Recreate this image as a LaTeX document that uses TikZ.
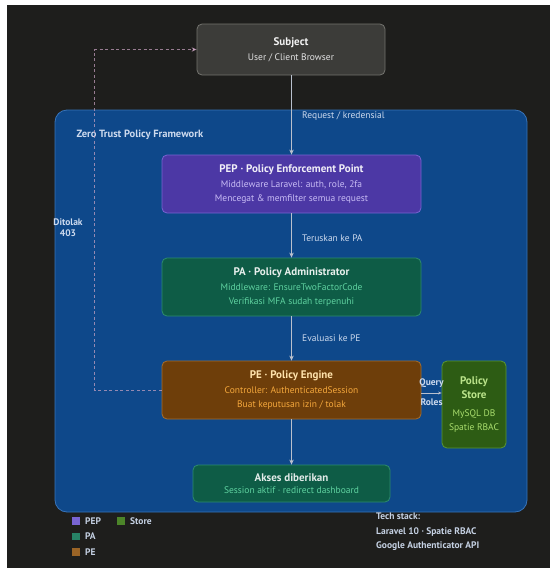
\documentclass[tikz,border=0pt]{standalone}
\usepackage{fontspec}
\setmainfont{PT Sans}
\usepackage{tikz}
\usetikzlibrary{positioning}
\usetikzlibrary{arrows.meta}

\definecolor{bgdark}{RGB}{30,30,28}
\definecolor{framefill}{RGB}{14,72,138}
\definecolor{frameline}{RGB}{55,115,185}
\definecolor{subjfill}{RGB}{60,60,57}
\definecolor{subjline}{RGB}{115,115,110}
\definecolor{pepfill}{RGB}{76,56,165}
\definecolor{pepline}{RGB}{120,100,210}
\definecolor{peptext}{RGB}{200,188,245}
\definecolor{pafill}{RGB}{14,92,70}
\definecolor{paline}{RGB}{45,140,110}
\definecolor{patext}{RGB}{95,210,160}
\definecolor{pefill}{RGB}{110,62,10}
\definecolor{peline}{RGB}{165,110,45}
\definecolor{petext}{RGB}{245,168,60}
\definecolor{petitle}{RGB}{255,226,172}
\definecolor{storefill}{RGB}{45,92,20}
\definecolor{storeline}{RGB}{90,150,50}
\definecolor{storetext}{RGB}{170,222,110}
\definecolor{arrowgray}{RGB}{185,192,205}
\definecolor{labeltext}{RGB}{205,218,238}
\definecolor{denyline}{RGB}{205,165,195}

\tikzset{
	box/.style={ % kotak komponen
			rectangle,
			rounded corners=5pt,
			line width=0.8pt,
			align=center,
			inner sep=0pt,
			font=\fontsize{9.5}{13.5}\selectfont
		},
	flow/.style={ % panah utama
			draw=arrowgray,
			line width=0.8pt,
			-{Stealth[length=5pt,width=4.5pt]}
		},
	flowlabel/.style={
			text=labeltext,
			font=\fontsize{9.5}{11}\selectfont,
			anchor=west
		},
	deny/.style={ % jalur ditolak
			draw=denyline,
			draw opacity=0.7,
			line width=0.8pt,
			dash pattern=on 3pt off 2.5pt,
			-{Stealth[length=5pt,width=4.5pt]}
		},
	legendbox/.style={
			rectangle,
			minimum size=7.5pt,
			inner sep=0pt
		},
	legendtext/.style={
			text=labeltext!90!gray,
			font=\bfseries\fontsize{9.5}{11}\selectfont,
			anchor=west,
			inner sep=0pt
		}
}

\newcommand{\boxtitle}[1]{{\bfseries\fontsize{11}{13}\selectfont #1}}

\begin{document}
\begin{tikzpicture}[x=1pt,y=-1pt]
	\useasboundingbox (0,0) rectangle (550,568);
	\fill[white] (0,0) rectangle (550,568);
	\fill[bgdark] (7,5) rectangle (550,568);

	% frame Zero Trust
	\draw[fill=framefill, draw=frameline, line width=0.8pt, rounded corners=12pt]
		(55,110) rectangle (527,512);
	\node[anchor=west, text=labeltext, font=\bfseries\fontsize{10.5}{12}\selectfont]
		(framelabel) at (73,135) {Zero Trust Policy Framework};

	% komponen
	\node[box, fill=subjfill, draw=subjline, minimum width=188pt, minimum height=51pt]
		(subject) at (291,49.5)
		{\textcolor{white!90!gray}{\boxtitle{Subject}}\\[1pt]
		 \textcolor{white!78!gray}{User / Client Browser}};
	\node[box, fill=pepfill, draw=pepline, minimum width=259pt, minimum height=58pt]
		(pep) at (291.5,184)
		{\textcolor{white!92!pepfill}{\boxtitle{PEP · Policy Enforcement Point}}\\[2pt]
		 \textcolor{peptext}{Middleware Laravel: auth, role, 2fa}\\
		 \textcolor{peptext}{Mencegat \& memfilter semua request}};
	\node[box, fill=pafill, draw=paline, minimum width=259pt, minimum height=58pt]
		(pa) at (291.5,287)
		{\textcolor{white!90!pafill}{\boxtitle{PA · Policy Administrator}}\\[2pt]
		 \textcolor{patext}{Middleware: EnsureTwoFactorCode}\\
		 \textcolor{patext}{Verifikasi MFA sudah terpenuhi}};
	\node[box, fill=pefill, draw=peline, minimum width=259pt, minimum height=58pt]
		(pe) at (291.5,390)
		{\textcolor{petitle}{\boxtitle{PE · Policy Engine}}\\[2pt]
		 \textcolor{petext}{Controller: AuthenticatedSession}\\
		 \textcolor{petext}{Buat keputusan izin / tolak}};
	\node[box, fill=storefill, draw=storeline, minimum width=64pt, minimum height=87pt]
		(store) at (474,404.5)
		{\textcolor{storetext!80!white}{\boxtitle{Policy}}\\
		 \textcolor{storetext!80!white}{\boxtitle{Store}}\\[5pt]
		 \textcolor{storetext}{MySQL DB}\\
		 \textcolor{storetext}{Spatie RBAC}};
	\node[box, fill=pafill, draw=paline, minimum width=197pt, minimum height=37pt]
		(akses) at (291.5,483.5)
		{\textcolor{white!88!pafill}{\boxtitle{Akses diberikan}}\\[-1pt]
		 \textcolor{patext}{Session aktif · redirect dashboard}};

	% alur utama
	\draw[flow] (subject.south -| pep.north) -- (pep.north)
		node[flowlabel, pos=0.51, right=7pt] {Request / kredensial};
	\draw[flow] (pep.south) -- (pa.north)
		node[flowlabel, pos=0.55, right=7pt] {Teruskan ke PA};
	\draw[flow] (pa.south) -- (pe.north)
		node[flowlabel, pos=0.5, right=7pt] {Evaluasi ke PE};
	\draw[flow] (pe.south) -- (akses.north);

	% query ke store
	\draw[draw=arrowgray, line width=0.6pt, -{Stealth[length=3.5pt,width=3pt]}]
		(pe.east |- 0,393) -- (store.west |- 0,393)
		node[midway, above=2pt, text=labeltext, font=\bfseries\fontsize{9.5}{11}\selectfont] {Query}
		node[midway, below=2pt, text=labeltext, font=\bfseries\fontsize{9.5}{11}\selectfont] {Roles};

	% ditolak
	\draw[deny] (pe.west) -- ++(-67,0) |- (subject.west);
	\node[text=labeltext, align=center, font=\bfseries\fontsize{9.5}{11}\selectfont]
		(denylabel) at (68,228) {Ditolak\\403};

	% legenda
	\node[legendbox, fill=pepline] (legpep) at (76,521) {};
	\node[legendtext, right=5pt of legpep] {PEP};
	\node[legendbox, fill=paline!80!pafill] (legpa) at (76,536.5) {};
	\node[legendtext, right=5pt of legpa] {PA};
	\node[legendbox, fill=peline!80!pefill] (legpe) at (76,552) {};
	\node[legendtext, right=5pt of legpe] {PE};
	\node[legendbox, fill=storeline!70!storefill] (legstore) at (121,521) {};
	\node[legendtext, right=5pt of legstore] {Store};

	% tech stack
	\node[legendtext, anchor=north west, align=left, font=\bfseries\fontsize{9.5}{14.5}\selectfont]
		(techstack) at (376,513)
		{Tech stack:\\Laravel 10 · Spatie RBAC\\Google Authenticator API};
\end{tikzpicture}
\end{document}
